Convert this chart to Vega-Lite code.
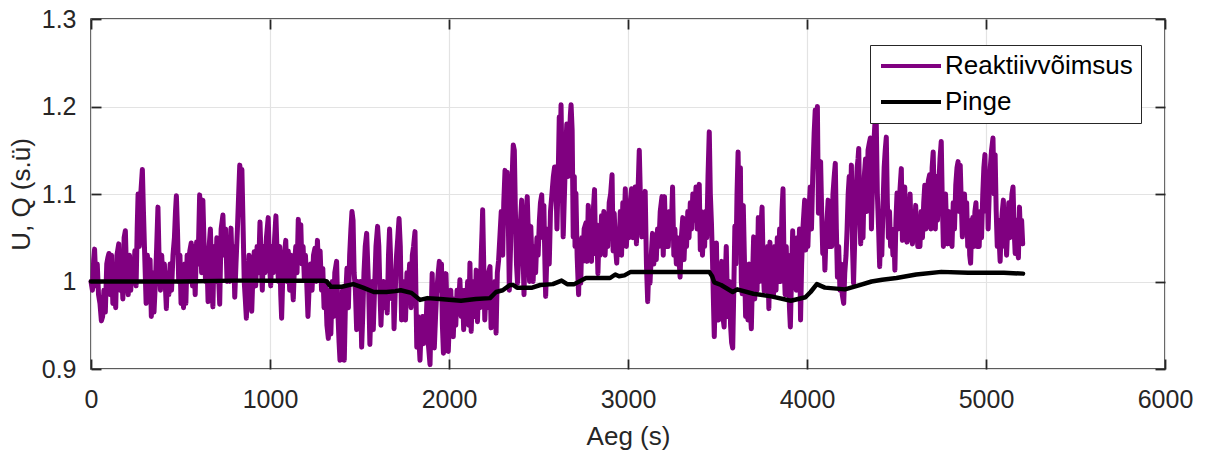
{
  "$schema": "https://vega.github.io/schema/vega-lite/v6.json",
  "width": 1074,
  "height": 350,
  "autosize": {"type": "none"},
  "padding": {"left": 91, "top": 19, "right": 40, "bottom": 82},
  "background": "white",
  "config": {
    "font": "Liberation Sans",
    "view": {"stroke": "#262626", "strokeWidth": 1.5},
    "axis": {
      "domain": false,
      "grid": true,
      "gridColor": "#e3e3e3",
      "gridWidth": 1.2,
      "tickColor": "#262626",
      "tickWidth": 1.8,
      "tickSize": -10,
      "labelFlush": false,
      "labelOverlap": false,
      "labelFont": "Liberation Sans",
      "labelFontSize": 25,
      "labelColor": "#262626",
      "titleFont": "Liberation Sans",
      "titleFontSize": 26,
      "titleFontWeight": "normal",
      "titleColor": "#262626"
    },
    "legend": {
      "orient": "none",
      "legendX": 779,
      "legendY": 26,
      "direction": "vertical",
      "symbolType": "M-1,0H5",
      "symbolSize": 400,
      "symbolStrokeWidth": 4,
      "symbolFillColor": "transparent",
      "labelFont": "Liberation Sans",
      "labelFontSize": 26,
      "labelColor": "#000000",
      "labelLimit": 0,
      "labelOffset": 41,
      "rowPadding": 10,
      "padding": 8,
      "fillColor": "white",
      "strokeColor": "#262626",
      "strokeWidth": 1
    }
  },
  "datasets": {
    "q": [
      {"t":0,"v":1.000},{"t":8,"v":0.990},{"t":15,"v":1.025},{"t":20,"v":1.037},{"t":28,"v":0.995},{"t":35,"v":1.020},{"t":42,"v":0.985},{"t":50,"v":0.975},{"t":58,"v":0.955},{"t":65,"v":0.960},{"t":72,"v":0.990},{"t":80,"v":0.965},{"t":88,"v":1.020},{"t":95,"v":1.028},{"t":100,"v":1.032},{"t":108,"v":0.985},{"t":115,"v":1.030},{"t":122,"v":0.975},{"t":130,"v":1.010},{"t":138,"v":0.970},{"t":145,"v":1.030},{"t":155,"v":1.043},{"t":162,"v":0.990},{"t":170,"v":1.020},{"t":178,"v":0.980},{"t":185,"v":1.050},{"t":192,"v":1.058},{"t":200,"v":1.000},{"t":208,"v":0.985},{"t":215,"v":1.030},{"t":222,"v":0.990},{"t":230,"v":1.020},{"t":238,"v":1.005},{"t":245,"v":1.035},{"t":252,"v":0.995},{"t":258,"v":1.060},{"t":263,"v":1.100},{"t":270,"v":1.040},{"t":278,"v":1.100},{"t":287,"v":1.128},{"t":293,"v":1.080},{"t":300,"v":1.030},{"t":308,"v":0.975},{"t":315,"v":1.030},{"t":322,"v":1.000},{"t":330,"v":1.025},{"t":337,"v":0.960},{"t":345,"v":1.010},{"t":352,"v":0.965},{"t":360,"v":1.000},{"t":367,"v":1.040},{"t":374,"v":1.085},{"t":380,"v":1.030},{"t":388,"v":0.990},{"t":395,"v":1.030},{"t":402,"v":1.000},{"t":410,"v":1.020},{"t":421,"v":0.969},{"t":428,"v":1.010},{"t":435,"v":0.985},{"t":442,"v":1.020},{"t":450,"v":0.990},{"t":458,"v":1.030},{"t":466,"v":1.050},{"t":472,"v":1.080},{"t":477,"v":1.098},{"t":483,"v":1.060},{"t":490,"v":1.000},{"t":497,"v":1.030},{"t":503,"v":0.975},{"t":510,"v":1.010},{"t":517,"v":0.970},{"t":524,"v":1.020},{"t":530,"v":0.975},{"t":537,"v":1.030},{"t":545,"v":1.000},{"t":552,"v":1.035},{"t":560,"v":1.044},{"t":567,"v":0.995},{"t":574,"v":1.040},{"t":582,"v":0.985},{"t":590,"v":1.045},{"t":598,"v":1.020},{"t":607,"v":1.099},{"t":612,"v":1.060},{"t":618,"v":1.010},{"t":625,"v":1.093},{"t":632,"v":1.040},{"t":640,"v":1.000},{"t":647,"v":1.030},{"t":654,"v":0.977},{"t":660,"v":1.040},{"t":667,"v":1.060},{"t":674,"v":1.010},{"t":681,"v":0.971},{"t":688,"v":1.040},{"t":695,"v":1.000},{"t":703,"v":1.050},{"t":710,"v":1.020},{"t":719,"v":0.974},{"t":727,"v":1.060},{"t":737,"v":1.076},{"t":744,"v":1.030},{"t":752,"v":1.060},{"t":760,"v":1.000},{"t":768,"v":1.050},{"t":775,"v":1.000},{"t":782,"v":1.061},{"t":790,"v":1.010},{"t":797,"v":1.040},{"t":803,"v":0.982},{"t":810,"v":1.020},{"t":818,"v":1.060},{"t":825,"v":1.100},{"t":831,"v":1.133},{"t":838,"v":1.120},{"t":843,"v":1.128},{"t":850,"v":1.060},{"t":856,"v":1.000},{"t":862,"v":0.980},{"t":868,"v":0.958},
      {"t":875,"v":1.000},{"t":883,"v":1.030},{"t":890,"v":0.990},{"t":898,"v":0.966},{"t":905,"v":1.010},{"t":912,"v":1.034},{"t":920,"v":0.995},{"t":928,"v":1.040},{"t":936,"v":1.010},{"t":944,"v":1.068},{"t":950,"v":1.030},{"t":957,"v":0.990},{"t":964,"v":1.040},{"t":972,"v":1.010},{"t":980,"v":1.050},{"t":990,"v":1.073},{"t":997,"v":1.020},{"t":1004,"v":0.995},{"t":1011,"v":1.040},{"t":1018,"v":1.010},{"t":1026,"v":1.050},{"t":1033,"v":1.075},{"t":1040,"v":1.030},{"t":1047,"v":1.000},{"t":1054,"v":1.040},{"t":1060,"v":0.985},{"t":1065,"v":0.958},{"t":1072,"v":1.010},{"t":1080,"v":1.030},{"t":1088,"v":1.047},{"t":1095,"v":1.000},{"t":1102,"v":1.035},{"t":1110,"v":0.990},{"t":1118,"v":1.030},{"t":1124,"v":1.000},{"t":1130,"v":0.979},{"t":1137,"v":1.020},{"t":1144,"v":1.040},{"t":1151,"v":1.010},{"t":1158,"v":1.071},{"t":1165,"v":1.040},{"t":1172,"v":1.065},{"t":1178,"v":1.020},{"t":1185,"v":1.040},{"t":1192,"v":1.002},{"t":1198,"v":1.030},{"t":1205,"v":1.000},{"t":1212,"v":0.960},{"t":1220,"v":1.000},{"t":1227,"v":1.020},{"t":1235,"v":0.990},{"t":1243,"v":1.030},{"t":1251,"v":1.038},{"t":1258,"v":1.000},{"t":1265,"v":1.047},{"t":1272,"v":1.010},{"t":1280,"v":1.035},{"t":1288,"v":0.990},{"t":1295,"v":1.015},{"t":1302,"v":0.970},{"t":1310,"v":1.000},{"t":1318,"v":0.950},{"t":1326,"v":0.935},{"t":1333,"v":0.990},{"t":1340,"v":0.940},{"t":1348,"v":1.000},{"t":1355,"v":0.960},{"t":1362,"v":1.010},{"t":1372,"v":1.023},{"t":1380,"v":0.960},{"t":1386,"v":0.930},{"t":1391,"v":0.910},{"t":1398,"v":0.950},{"t":1405,"v":0.990},{"t":1410,"v":0.930},{"t":1415,"v":0.910},{"t":1422,"v":0.980},{"t":1430,"v":1.015},{"t":1438,"v":0.970},{"t":1445,"v":1.030},{"t":1452,"v":1.060},{"t":1458,"v":1.080},{"t":1464,"v":1.070},{"t":1470,"v":1.010},{"t":1477,"v":0.990},{"t":1484,"v":0.945},{"t":1490,"v":1.000},{"t":1497,"v":0.960},{"t":1505,"v":1.000},{"t":1512,"v":0.925},{"t":1518,"v":0.960},{"t":1525,"v":1.010},{"t":1532,"v":1.040},{"t":1540,"v":1.055},{"t":1546,"v":1.020},{"t":1552,"v":0.985},{"t":1558,"v":0.928},{"t":1565,"v":0.980},{"t":1572,"v":1.000},{"t":1577,"v":0.945},{"t":1584,"v":0.990},{"t":1592,"v":1.040},{"t":1601,"v":1.063},{"t":1608,"v":1.040},{"t":1614,"v":0.990},{"t":1620,"v":0.950},{"t":1627,"v":0.990},{"t":1634,"v":1.000},{"t":1641,"v":0.970},{"t":1648,"v":0.990},{"t":1655,"v":0.964},{"t":1662,"v":1.030},{"t":1668,"v":1.060},{"t":1675,"v":1.020},{"t":1682,"v":0.980},{"t":1688,"v":1.000},{"t":1693,"v":0.946},{"t":1700,"v":0.990},{"t":1707,"v":1.030},{"t":1714,"v":1.050},{"t":1721,"v":1.072},{"t":1728,"v":1.040},
      {"t":1735,"v":0.956},{"t":1742,"v":1.000},{"t":1750,"v":0.980},{"t":1757,"v":0.956},{"t":1765,"v":1.010},{"t":1772,"v":0.990},{"t":1780,"v":1.020},{"t":1788,"v":0.970},{"t":1795,"v":1.030},{"t":1802,"v":1.040},{"t":1810,"v":1.057},{"t":1815,"v":0.990},{"t":1820,"v":0.925},{"t":1827,"v":0.960},{"t":1833,"v":0.930},{"t":1838,"v":0.910},{"t":1845,"v":0.950},{"t":1852,"v":0.960},{"t":1858,"v":0.929},{"t":1864,"v":0.960},{"t":1870,"v":0.940},{"t":1877,"v":0.980},{"t":1884,"v":0.930},{"t":1894,"v":0.905},{"t":1900,"v":0.960},{"t":1906,"v":1.009},{"t":1912,"v":0.960},{"t":1918,"v":0.924},{"t":1925,"v":0.960},{"t":1932,"v":0.990},{"t":1940,"v":1.010},{"t":1946,"v":1.023},{"t":1952,"v":0.990},{"t":1958,"v":1.020},{"t":1963,"v":0.950},{"t":1969,"v":0.918},{"t":1976,"v":0.960},{"t":1983,"v":1.009},{"t":1990,"v":0.960},{"t":1996,"v":0.920},{"t":2003,"v":0.960},{"t":2010,"v":0.990},{"t":2017,"v":0.950},{"t":2024,"v":0.937},{"t":2031,"v":0.980},{"t":2038,"v":0.950},{"t":2045,"v":0.990},{"t":2053,"v":0.970},{"t":2061,"v":1.002},{"t":2068,"v":0.960},{"t":2075,"v":0.990},{"t":2082,"v":0.945},{"t":2090,"v":0.990},{"t":2097,"v":0.970},{"t":2104,"v":1.000},{"t":2110,"v":0.950},{"t":2117,"v":1.021},{"t":2124,"v":0.943},{"t":2131,"v":0.990},{"t":2138,"v":1.000},{"t":2145,"v":0.960},{"t":2152,"v":1.013},{"t":2159,"v":0.954},{"t":2166,"v":1.000},{"t":2173,"v":0.970},{"t":2180,"v":1.030},{"t":2185,"v":1.060},{"t":2188,"v":1.082},{"t":2194,"v":1.020},{"t":2200,"v":0.956},{"t":2207,"v":0.990},{"t":2214,"v":0.970},{"t":2221,"v":1.010},{"t":2229,"v":1.017},{"t":2235,"v":0.947},{"t":2242,"v":0.990},{"t":2250,"v":0.960},{"t":2257,"v":1.000},{"t":2263,"v":0.941},{"t":2270,"v":1.010},{"t":2277,"v":1.024},{"t":2284,"v":1.050},{"t":2292,"v":1.080},{"t":2300,"v":1.030},{"t":2306,"v":1.090},{"t":2313,"v":1.127},{"t":2320,"v":1.100},{"t":2325,"v":1.125},{"t":2332,"v":1.060},{"t":2337,"v":0.990},{"t":2344,"v":1.040},{"t":2350,"v":1.100},{"t":2356,"v":1.140},{"t":2359,"v":1.156},{"t":2365,"v":1.150},{"t":2371,"v":1.080},{"t":2377,"v":1.020},{"t":2383,"v":0.998},{"t":2390,"v":1.030},{"t":2397,"v":1.060},{"t":2406,"v":1.093},{"t":2413,"v":1.040},{"t":2419,"v":0.985},{"t":2425,"v":1.040},{"t":2431,"v":1.070},{"t":2437,"v":1.097},{"t":2444,"v":1.050},{"t":2450,"v":1.000},{"t":2457,"v":1.063},{"t":2464,"v":1.020},{"t":2470,"v":1.000},{"t":2477,"v":1.040},{"t":2484,"v":1.010},{"t":2491,"v":1.050},{"t":2498,"v":1.030},{"t":2505,"v":1.070},{"t":2511,"v":1.090},{"t":2518,"v":1.099},{"t":2524,"v":1.050},{"t":2530,"v":1.087},{"t":2536,"v":1.020},{"t":2540,"v":0.983},{"t":2547,"v":1.030},{"t":2553,"v":1.060},{"t":2560,"v":1.020},{"t":2567,"v":1.080},{"t":2575,"v":1.100},{"t":2583,"v":1.120},{"t":2590,"v":1.131},{"t":2596,"v":1.131},{"t":2603,"v":1.060},{"t":2610,"v":1.120},{"t":2616,"v":1.188},
      {"t":2621,"v":1.150},{"t":2626,"v":1.202},{"t":2632,"v":1.120},{"t":2638,"v":1.051},{"t":2645,"v":1.100},{"t":2652,"v":1.150},{"t":2658,"v":1.180},{"t":2665,"v":1.120},{"t":2672,"v":1.160},{"t":2678,"v":1.190},{"t":2682,"v":1.202},{"t":2688,"v":1.173},{"t":2694,"v":1.051},{"t":2700,"v":1.120},{"t":2704,"v":1.040},{"t":2709,"v":1.101},{"t":2716,"v":1.028},{"t":2724,"v":0.985},{"t":2730,"v":1.040},{"t":2736,"v":0.998},{"t":2742,"v":1.050},{"t":2748,"v":1.023},{"t":2755,"v":1.060},{"t":2765,"v":1.067},{"t":2771,"v":1.023},{"t":2778,"v":1.087},{"t":2784,"v":1.040},{"t":2790,"v":1.080},{"t":2796,"v":1.023},{"t":2803,"v":1.070},{"t":2813,"v":1.105},{"t":2819,"v":1.032},{"t":2825,"v":1.065},{"t":2832,"v":1.009},{"t":2839,"v":1.060},{"t":2845,"v":1.030},{"t":2852,"v":1.075},{"t":2858,"v":1.040},{"t":2865,"v":1.080},{"t":2872,"v":1.030},{"t":2880,"v":1.070},{"t":2887,"v":1.040},{"t":2895,"v":1.090},{"t":2903,"v":1.100},{"t":2911,"v":1.122},{"t":2917,"v":1.035},{"t":2923,"v":1.078},{"t":2930,"v":1.040},{"t":2937,"v":1.021},{"t":2944,"v":1.060},{"t":2950,"v":1.040},{"t":2957,"v":1.080},{"t":2964,"v":1.030},{"t":2971,"v":1.090},{"t":2978,"v":1.060},{"t":2985,"v":1.106},{"t":2991,"v":1.040},{"t":2998,"v":1.070},{"t":3005,"v":1.050},{"t":3012,"v":1.090},{"t":3020,"v":1.106},{"t":3027,"v":1.050},{"t":3033,"v":1.100},{"t":3040,"v":1.108},{"t":3047,"v":1.043},{"t":3054,"v":1.090},{"t":3060,"v":1.130},{"t":3063,"v":1.150},{"t":3070,"v":1.090},{"t":3077,"v":1.051},{"t":3084,"v":1.080},{"t":3090,"v":1.060},{"t":3096,"v":1.103},{"t":3103,"v":1.020},{"t":3110,"v":0.977},{"t":3117,"v":1.020},{"t":3123,"v":0.998},{"t":3130,"v":1.030},{"t":3137,"v":1.055},{"t":3144,"v":1.020},{"t":3151,"v":1.040},{"t":3158,"v":1.025},{"t":3165,"v":1.060},{"t":3172,"v":1.040},{"t":3180,"v":1.080},{"t":3190,"v":1.097},{"t":3197,"v":1.030},{"t":3204,"v":1.097},{"t":3211,"v":1.040},{"t":3218,"v":1.060},{"t":3225,"v":1.040},{"t":3232,"v":1.080},{"t":3240,"v":1.050},{"t":3249,"v":1.108},{"t":3256,"v":1.030},{"t":3262,"v":1.060},{"t":3270,"v":1.020},{"t":3277,"v":1.050},{"t":3284,"v":1.030},{"t":3291,"v":1.005},{"t":3298,"v":1.050},{"t":3306,"v":1.073},{"t":3313,"v":1.025},{"t":3320,"v":1.060},{"t":3327,"v":1.040},{"t":3334,"v":1.080},{"t":3341,"v":1.050},{"t":3348,"v":1.090},{"t":3355,"v":1.060},{"t":3362,"v":1.100},{"t":3370,"v":1.070},{"t":3380,"v":1.108},{"t":3386,"v":1.060},{"t":3392,"v":1.100},{"t":3398,"v":1.111},{"t":3404,"v":1.036},{"t":3410,"v":1.080},{"t":3416,"v":1.030},{"t":3422,"v":1.060},{"t":3428,"v":1.040},{"t":3434,"v":1.080},{"t":3440,"v":1.050},{"t":3447,"v":1.120},{"t":3454,"v":1.171},{"t":3460,"v":1.100},{"t":3466,"v":1.068},{"t":3472,"v":1.025},{"t":3477,"v":0.980},{"t":3482,"v":0.937},
      {"t":3488,"v":0.990},{"t":3494,"v":1.044},{"t":3500,"v":0.970},{"t":3506,"v":0.956},{"t":3512,"v":1.000},{"t":3518,"v":0.980},{"t":3524,"v":1.023},{"t":3530,"v":0.960},{"t":3537,"v":0.948},{"t":3543,"v":1.000},{"t":3549,"v":1.040},{"t":3555,"v":0.980},{"t":3561,"v":0.960},{"t":3567,"v":1.000},{"t":3573,"v":0.950},{"t":3579,"v":0.930},{"t":3585,"v":0.924},{"t":3591,"v":0.990},{"t":3597,"v":1.063},{"t":3603,"v":1.020},{"t":3609,"v":1.100},{"t":3615,"v":1.148},{"t":3621,"v":1.060},{"t":3628,"v":1.130},{"t":3633,"v":1.000},{"t":3638,"v":0.986},{"t":3644,"v":1.087},{"t":3650,"v":1.030},{"t":3657,"v":0.960},{"t":3663,"v":1.000},{"t":3670,"v":0.956},{"t":3677,"v":1.020},{"t":3683,"v":0.970},{"t":3689,"v":0.946},{"t":3695,"v":1.000},{"t":3702,"v":1.051},{"t":3708,"v":0.980},{"t":3715,"v":1.040},{"t":3721,"v":0.990},{"t":3728,"v":1.073},{"t":3735,"v":1.000},{"t":3742,"v":1.060},{"t":3749,"v":1.085},{"t":3755,"v":1.020},{"t":3761,"v":0.989},{"t":3768,"v":1.030},{"t":3774,"v":0.990},{"t":3780,"v":1.040},{"t":3787,"v":0.969},{"t":3793,"v":1.045},{"t":3800,"v":0.985},{"t":3807,"v":1.030},{"t":3813,"v":0.985},{"t":3820,"v":1.040},{"t":3827,"v":0.990},{"t":3834,"v":1.050},{"t":3840,"v":1.000},{"t":3847,"v":1.060},{"t":3853,"v":1.000},{"t":3860,"v":1.080},{"t":3866,"v":1.106},{"t":3872,"v":1.020},{"t":3878,"v":0.985},{"t":3884,"v":1.040},{"t":3890,"v":0.990},{"t":3896,"v":1.030},{"t":3902,"v":0.970},{"t":3907,"v":0.948},{"t":3913,"v":1.000},{"t":3920,"v":1.058},{"t":3926,"v":1.000},{"t":3933,"v":1.040},{"t":3940,"v":0.990},{"t":3946,"v":1.050},{"t":3952,"v":1.010},{"t":3958,"v":1.060},{"t":3964,"v":0.956},{"t":3970,"v":1.020},{"t":3977,"v":1.060},{"t":3983,"v":1.080},{"t":3987,"v":1.093},{"t":3993,"v":1.036},{"t":3999,"v":1.070},{"t":4005,"v":1.040},{"t":4011,"v":1.080},{"t":4018,"v":1.108},{"t":4025,"v":1.060},{"t":4032,"v":1.120},{"t":4040,"v":1.170},{"t":4046,"v":1.196},{"t":4052,"v":1.140},{"t":4058,"v":1.200},{"t":4064,"v":1.078},{"t":4070,"v":1.110},{"t":4076,"v":1.137},{"t":4082,"v":1.080},{"t":4088,"v":1.032},{"t":4094,"v":1.060},{"t":4100,"v":1.013},{"t":4106,"v":1.050},{"t":4112,"v":1.070},{"t":4118,"v":1.093},{"t":4124,"v":1.040},{"t":4130,"v":1.080},{"t":4138,"v":1.040},{"t":4145,"v":1.100},{"t":4152,"v":1.120},{"t":4158,"v":1.135},{"t":4164,"v":1.060},{"t":4170,"v":1.005},{"t":4177,"v":1.040},{"t":4184,"v":0.990},{"t":4190,"v":1.020},{"t":4197,"v":0.985},{"t":4205,"v":0.975},{"t":4211,"v":1.010},{"t":4218,"v":1.030},{"t":4224,"v":1.060},{"t":4230,"v":1.100},{"t":4236,"v":1.120},{"t":4242,"v":1.080},{"t":4248,"v":1.133},{"t":4254,"v":1.040},{"t":4260,"v":0.998},{"t":4267,"v":1.050},{"t":4274,"v":1.100},{"t":4280,"v":1.130},{"t":4285,"v":1.140},{"t":4289,"v":1.152},{"t":4295,"v":1.080},{"t":4300,"v":1.043},{"t":4307,"v":1.090},{"t":4313,"v":1.050},{"t":4320,"v":1.120},{"t":4327,"v":1.140},{"t":4334,"v":1.080},{"t":4341,"v":1.150},{"t":4348,"v":1.158},{"t":4354,"v":1.164},
      {"t":4360,"v":1.060},{"t":4367,"v":1.120},{"t":4374,"v":1.160},{"t":4380,"v":1.183},{"t":4387,"v":1.181},{"t":4393,"v":1.100},{"t":4400,"v":1.060},{"t":4406,"v":1.017},{"t":4412,"v":1.060},{"t":4418,"v":1.030},{"t":4425,"v":1.090},{"t":4431,"v":1.130},{"t":4437,"v":1.150},{"t":4443,"v":1.165},{"t":4449,"v":1.090},{"t":4455,"v":1.050},{"t":4461,"v":1.080},{"t":4467,"v":1.040},{"t":4473,"v":1.060},{"t":4480,"v":1.030},{"t":4486,"v":1.050},{"t":4491,"v":1.013},{"t":4497,"v":1.070},{"t":4503,"v":1.101},{"t":4509,"v":1.060},{"t":4515,"v":1.090},{"t":4521,"v":1.110},{"t":4527,"v":1.129},{"t":4533,"v":1.047},{"t":4540,"v":1.090},{"t":4546,"v":1.108},{"t":4552,"v":1.060},{"t":4558,"v":1.045},{"t":4564,"v":1.080},{"t":4570,"v":1.050},{"t":4576,"v":1.100},{"t":4582,"v":1.050},{"t":4589,"v":1.043},{"t":4595,"v":1.070},{"t":4601,"v":1.050},{"t":4607,"v":1.087},{"t":4613,"v":1.060},{"t":4619,"v":1.040},{"t":4625,"v":1.070},{"t":4631,"v":1.040},{"t":4638,"v":1.080},{"t":4645,"v":1.050},{"t":4652,"v":1.090},{"t":4658,"v":1.110},{"t":4664,"v":1.060},{"t":4671,"v":1.100},{"t":4678,"v":1.115},{"t":4685,"v":1.122},{"t":4692,"v":1.060},{"t":4699,"v":1.130},{"t":4705,"v":1.148},{"t":4711,"v":1.090},{"t":4717,"v":1.060},{"t":4723,"v":1.120},{"t":4729,"v":1.070},{"t":4736,"v":1.110},{"t":4743,"v":1.140},{"t":4750,"v":1.160},{"t":4756,"v":1.090},{"t":4762,"v":1.040},{"t":4768,"v":1.080},{"t":4774,"v":1.100},{"t":4780,"v":1.060},{"t":4786,"v":1.043},{"t":4792,"v":1.080},{"t":4798,"v":1.050},{"t":4804,"v":1.070},{"t":4810,"v":1.040},{"t":4817,"v":1.090},{"t":4824,"v":1.060},{"t":4831,"v":1.110},{"t":4838,"v":1.130},{"t":4844,"v":1.137},{"t":4850,"v":1.080},{"t":4856,"v":1.133},{"t":4862,"v":1.090},{"t":4868,"v":1.051},{"t":4874,"v":1.080},{"t":4880,"v":1.100},{"t":4886,"v":1.060},{"t":4892,"v":1.090},{"t":4898,"v":1.040},{"t":4904,"v":1.070},{"t":4909,"v":1.030},{"t":4914,"v":1.021},{"t":4920,"v":1.060},{"t":4926,"v":1.073},{"t":4932,"v":1.040},{"t":4938,"v":1.080},{"t":4944,"v":1.090},{"t":4950,"v":1.040},{"t":4956,"v":1.070},{"t":4962,"v":1.040},{"t":4968,"v":1.080},{"t":4975,"v":1.050},{"t":4982,"v":1.100},{"t":4988,"v":1.130},{"t":4994,"v":1.145},{"t":5000,"v":1.080},{"t":5006,"v":1.120},{"t":5012,"v":1.060},{"t":5018,"v":1.100},{"t":5024,"v":1.130},{"t":5031,"v":1.150},{"t":5039,"v":1.164},{"t":5045,"v":1.100},{"t":5051,"v":1.145},{"t":5057,"v":1.080},{"t":5063,"v":1.040},{"t":5069,"v":1.070},{"t":5075,"v":1.040},{"t":5079,"v":1.023},{"t":5085,"v":1.060},{"t":5091,"v":1.080},{"t":5097,"v":1.093},{"t":5103,"v":1.040},{"t":5109,"v":1.070},{"t":5115,"v":1.030},{"t":5121,"v":1.060},{"t":5127,"v":1.090},{"t":5133,"v":1.050},{"t":5139,"v":1.080},{"t":5145,"v":1.100},{"t":5151,"v":1.108},{"t":5157,"v":1.060},{"t":5163,"v":1.032},{"t":5169,"v":1.070},{"t":5175,"v":1.040},{"t":5181,"v":1.027},{"t":5187,"v":1.085},{"t":5193,"v":1.050},{"t":5199,"v":1.070},{"t":5205,"v":1.043}
    ],
    "u": [
      {"t":0,"v":1.000},{"t":500,"v":1.000},{"t":800,"v":1.001},{"t":1000,"v":1.001},{"t":1300,"v":1.001},{"t":1317,"v":1.000},{"t":1340,"v":0.994},{"t":1400,"v":0.994},{"t":1465,"v":0.997},{"t":1520,"v":0.993},{"t":1580,"v":0.988},{"t":1650,"v":0.988},{"t":1700,"v":0.989},{"t":1730,"v":0.990},{"t":1790,"v":0.987},{"t":1838,"v":0.979},{"t":1880,"v":0.981},{"t":1950,"v":0.980},{"t":2067,"v":0.978},{"t":2150,"v":0.980},{"t":2229,"v":0.981},{"t":2263,"v":0.988},{"t":2300,"v":0.990},{"t":2340,"v":0.996},{"t":2359,"v":0.996},{"t":2380,"v":0.993},{"t":2465,"v":0.993},{"t":2510,"v":0.996},{"t":2580,"v":0.997},{"t":2629,"v":1.001},{"t":2660,"v":0.997},{"t":2700,"v":0.997},{"t":2765,"v":1.004},{"t":2900,"v":1.004},{"t":2929,"v":1.008},{"t":2950,"v":1.006},{"t":2980,"v":1.007},{"t":3015,"v":1.011},{"t":3200,"v":1.011},{"t":3454,"v":1.011},{"t":3470,"v":1.006},{"t":3482,"v":0.999},{"t":3520,"v":0.996},{"t":3585,"v":0.988},{"t":3610,"v":0.991},{"t":3700,"v":0.986},{"t":3800,"v":0.983},{"t":3910,"v":0.978},{"t":3991,"v":0.982},{"t":4020,"v":0.988},{"t":4055,"v":0.997},{"t":4100,"v":0.993},{"t":4212,"v":0.991},{"t":4280,"v":0.995},{"t":4361,"v":1.000},{"t":4420,"v":1.002},{"t":4500,"v":1.004},{"t":4610,"v":1.008},{"t":4750,"v":1.011},{"t":4900,"v":1.010},{"t":5000,"v":1.010},{"t":5100,"v":1.010},{"t":5207,"v":1.009}
    ]
  },
  "layer": [
    {
      "data": {"name": "q"},
      "mark": {"type": "line", "strokeWidth": 5, "strokeJoin": "round", "strokeCap": "round"},
      "encoding": {
        "x": {
          "field": "t", "type": "quantitative",
          "scale": {"domain": [0, 6000], "nice": false},
          "axis": {"orient": "bottom", "values": [0, 1000, 2000, 3000, 4000, 5000, 6000], "format": "d", "title": "Aeg (s)", "labelPadding": 28, "titlePadding": 11}
        },
        "y": {
          "field": "v", "type": "quantitative",
          "scale": {"domain": [0.9, 1.3], "nice": false, "zero": false},
          "axis": {"orient": "left", "values": [0.9, 1.0, 1.1, 1.2, 1.3], "labelExpr": "format(datum.value, '.1~f')", "title": "U, Q (s.ü)", "labelPadding": 25, "titlePadding": 7}
        },
        "color": {
          "datum": "Reaktiivvõimsus", "type": "nominal",
          "scale": {"domain": ["Reaktiivvõimsus", "Pinge"], "range": ["#800080", "#000000"]},
          "legend": {"title": null}
        }
      }
    },
    {
      "data": {"name": "u"},
      "mark": {"type": "line", "strokeWidth": 4.5, "strokeJoin": "round", "strokeCap": "round"},
      "encoding": {
        "x": {
          "field": "t", "type": "quantitative",
          "axis": {"orient": "top", "values": [0, 1000, 2000, 3000, 4000, 5000, 6000], "labels": false, "grid": false, "title": null}
        },
        "y": {
          "field": "v", "type": "quantitative",
          "axis": {"orient": "right", "values": [0.9, 1.0, 1.1, 1.2, 1.3], "labels": false, "grid": false, "title": null}
        },
        "color": {"datum": "Pinge", "type": "nominal"}
      }
    }
  ],
  "resolve": {"axis": {"x": "independent", "y": "independent"}}
}
